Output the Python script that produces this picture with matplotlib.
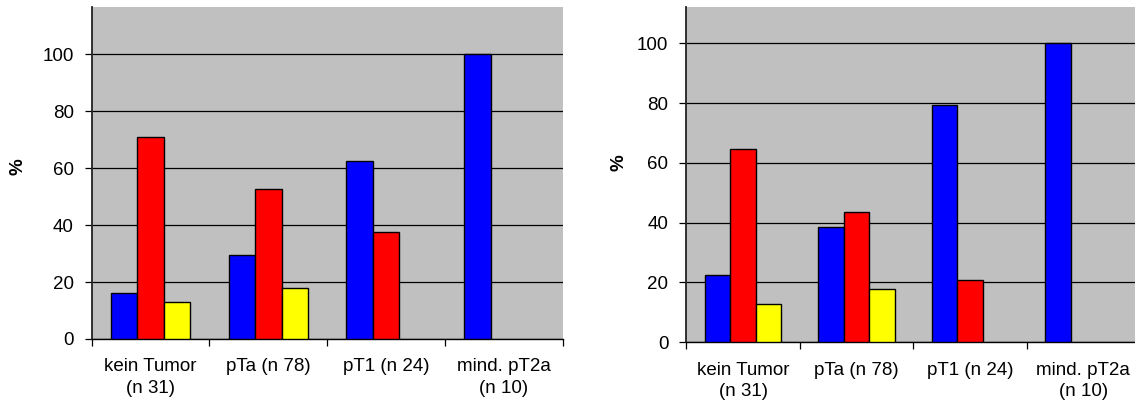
import numpy as np
import matplotlib.pyplot as plt

plt.rcParams['font.family'] = ['Liberation Sans', 'DejaVu Sans']

# Categories (x axis)
categories = ['kein Tumor\n(n 31)', 'pTa (n 78)', 'pT1 (n 24)', 'mind. pT2a\n(n 10)']

# Left chart values in %
left_blue = [16.1, 29.5, 62.5, 100.0]
left_red = [71.0, 52.6, 37.5, np.nan]
left_yellow = [12.9, 17.9, np.nan, np.nan]

# Right chart values in %
right_blue = [22.6, 38.5, 79.2, 100.0]
right_red = [64.5, 43.6, 20.8, np.nan]
right_yellow = [12.9, 17.9, np.nan, np.nan]

yticks = [0, 20, 40, 60, 80, 100]
fs = 13.5


def draw(ax, blue, red, yellow, ytop, label_pos):
    x = np.arange(len(categories))
    w = 0.225
    for off, vals, col in [(-w, blue, '#0000ff'), (0, red, '#ff0000'), (w, yellow, '#ffff00')]:
        ax.bar(x + off, vals, w, color=col, edgecolor='black', linewidth=1.0, zorder=3)
    ax.set_facecolor('#c0c0c0')
    ax.set_xlim(-0.5, len(categories) - 0.5)
    ax.set_ylim(0, ytop)
    ax.set_yticks(yticks)
    ax.yaxis.grid(True, color='black', linewidth=0.9)
    ax.set_axisbelow(True)
    ax.tick_params(axis='y', direction='out', length=5, width=0.9, labelsize=fs, pad=8)

    # category boundaries as ticks, labels in the middle
    ax.set_xticks(np.arange(len(categories) + 1) - 0.5)
    ax.set_xticklabels([])
    ax.set_xticks(x, minor=True)
    ax.set_xticklabels(categories, minor=True, fontsize=fs, linespacing=1.35)
    ax.tick_params(axis='x', which='major', direction='out', length=5, width=0.9)
    ax.tick_params(axis='x', which='minor', length=0, pad=14)

    for s in ['top', 'right']:
        ax.spines[s].set_visible(False)
    ax.spines['left'].set_linewidth(1.3)
    ax.spines['left'].set_color('#222222')
    ax.spines['bottom'].set_linewidth(1.0)

    ax.set_ylabel('%', fontsize=fs, fontweight='bold')
    ax.yaxis.set_label_coords(*label_pos)


fig = plt.figure(figsize=(11.35, 4.05), dpi=100)
ax1 = fig.add_axes([0.0808, 0.163, 0.415, 0.8198])
ax2 = fig.add_axes([0.6048, 0.1548, 0.3996, 0.8279])

draw(ax1, left_blue, left_red, left_yellow, 116.6, (-0.139, 0.52))
draw(ax2, right_blue, right_red, right_yellow, 112.1, (-0.129, 0.535))

fig.savefig('out.png', dpi=100)
